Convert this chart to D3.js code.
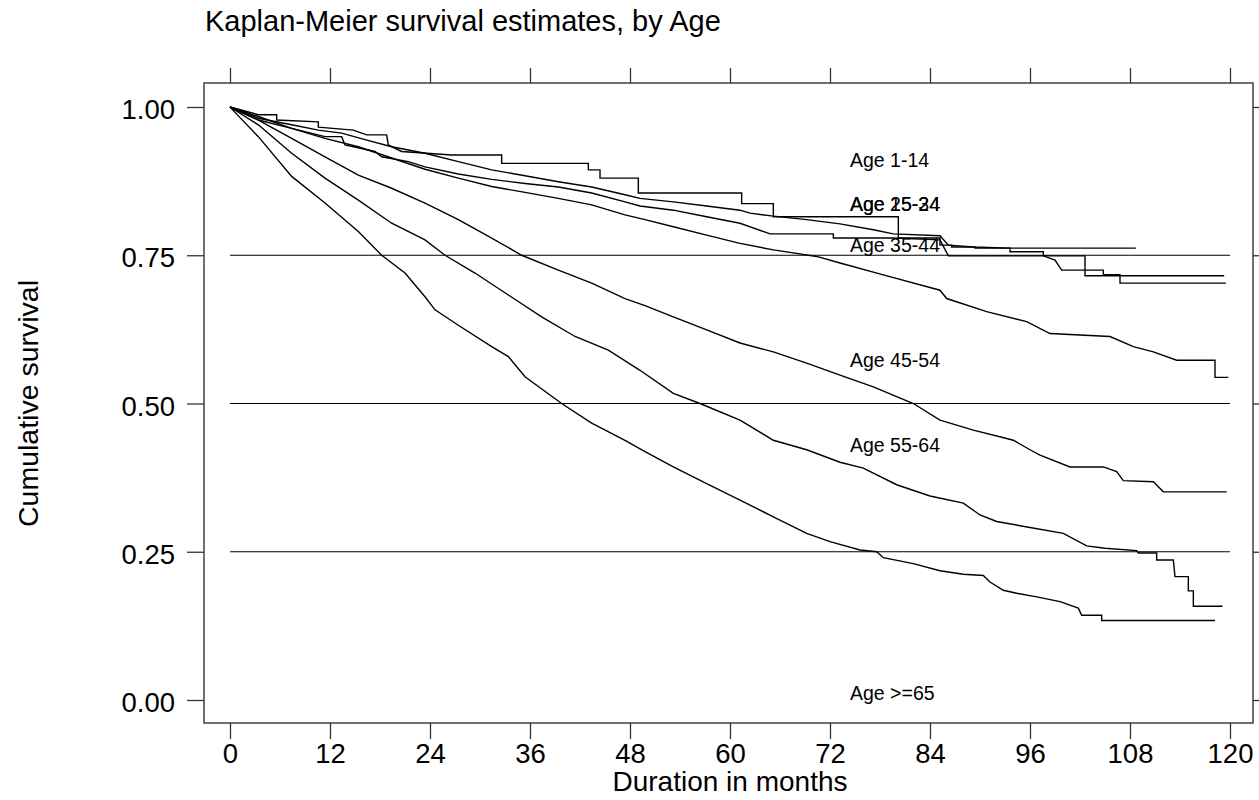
<!DOCTYPE html>
<html><head><meta charset="utf-8">
<script src="https://cdn.jsdelivr.net/npm/d3@7"></script>
<style>
body{margin:0;background:#fff}
svg{display:block}
text{font-family:"Liberation Sans",Arial,Helvetica,sans-serif;fill:#000}
</style></head>
<body><svg width="1259" height="800"></svg>
<script>
// ---------- data (month, cumulative survival) ----------
const ageLabels = ["Age 1-14","Age 15-24","Age 25-34","Age 35-44","Age 45-54","Age 55-64","Age >=65"];
const labelSurv = [0.898, 0.824, 0.824, 0.755, 0.562, 0.418, 0.0];
const labelMonth = 74.4;
const xTicks = [0,12,24,36,48,60,72,84,96,108,120];
const yTicks = [0,0.25,0.5,0.75,1];
const gridVals = [0.25,0.5,0.75];

const ageA = [[0,1],[3.4,0.987],[5.6,0.987],[5.6,0.978],[10.6,0.975],[10.6,0.966],[14.8,0.961],[16.4,0.953],[18.8,0.953],[19,0.936],[20.6,0.925],[26.6,0.919],[32.6,0.919],[32.6,0.905],[43,0.905],[43,0.894],[44.4,0.894],[44.4,0.880],[49,0.880],[49,0.855],[61.4,0.855],[61.4,0.837],[65.2,0.837],[65.2,0.815],[80.2,0.815],[80.2,0.779],[85.2,0.779],[85.2,0.767],[86.6,0.767],[86.6,0.764],[89.4,0.764],[89.4,0.762],[108.7,0.762]];
const ageB = [[0,1],[3.4,0.981],[7.4,0.970],[10.6,0.961],[13.4,0.956],[16.2,0.945],[19.4,0.933],[23.4,0.922],[27.4,0.908],[31.4,0.894],[35.4,0.884],[39.4,0.874],[43.4,0.865],[47.4,0.852],[49.2,0.846],[53.2,0.840],[57.2,0.833],[61.2,0.826],[62.4,0.821],[65.2,0.816],[69.2,0.810],[73.2,0.803],[77.2,0.793],[79.6,0.786],[85.2,0.783],[86.2,0.767],[89.2,0.764],[93.6,0.762],[93.6,0.756],[97.6,0.756],[97.6,0.749],[99,0.742],[99.8,0.725],[104.8,0.725],[104.8,0.717],[106.8,0.717],[106.8,0.703],[119.5,0.703]];
const ageC = [[0,1],[3.4,0.978],[7.4,0.964],[11.4,0.950],[13.4,0.950],[13.8,0.936],[17.4,0.925],[18.2,0.916],[21.4,0.908],[23.4,0.899],[27.4,0.887],[31.4,0.878],[35.4,0.871],[39.4,0.865],[43.4,0.855],[47.4,0.840],[49.2,0.833],[53.2,0.826],[57.2,0.815],[61.2,0.804],[64.8,0.786],[72.4,0.786],[72.4,0.779],[79.6,0.779],[85.2,0.776],[86.2,0.749],[102.6,0.749],[102.6,0.7155],[119.3,0.7155]];
const ageD = [[0,1],[3.4,0.984],[7.4,0.964],[11.4,0.947],[15.4,0.933],[19.4,0.914],[23.4,0.895],[27.4,0.880],[31.4,0.866],[35.4,0.856],[39.4,0.846],[43.4,0.835],[47.4,0.818],[49.8,0.810],[53.2,0.798],[57.2,0.784],[61.2,0.770],[65.2,0.759],[70.4,0.748],[73.2,0.737],[78.4,0.717],[85.2,0.691],[86,0.677],[90.8,0.655],[95.6,0.638],[98.4,0.618],[105.6,0.613],[108.4,0.596],[110.8,0.587],[113.6,0.573],[118.2,0.573],[118.2,0.544],[119.8,0.544]];
const ageE = [[0,1],[3.4,0.978],[7.4,0.947],[11.4,0.916],[15.4,0.885],[19.4,0.863],[23.4,0.838],[27.4,0.810],[31.4,0.779],[35,0.75],[39.4,0.725],[43.4,0.703],[47.4,0.677],[49.8,0.665],[53.2,0.646],[57.2,0.624],[61.2,0.602],[65.2,0.587],[69.2,0.568],[73.2,0.548],[77.2,0.528],[82,0.5],[85.2,0.472],[89.2,0.455],[93.2,0.441],[94,0.438],[96,0.422],[97.2,0.413],[100.8,0.393],[104.8,0.393],[106.4,0.385],[107.2,0.370],[110.8,0.368],[112,0.351],[119.6,0.351]];
const ageF = [[0,1],[3.4,0.970],[7.4,0.922],[11.4,0.880],[15.4,0.843],[19.4,0.804],[23.4,0.776],[25.8,0.75],[29.4,0.720],[33.4,0.683],[37.4,0.646],[41.4,0.613],[45.4,0.590],[49.2,0.556],[53.2,0.517],[56.4,0.5],[61.2,0.472],[65.2,0.438],[69.2,0.422],[73.2,0.401],[76,0.391],[80,0.363],[84,0.344],[88,0.332],[90,0.312],[92,0.301],[96,0.291],[100,0.281],[102.8,0.260],[105,0.256],[108.8,0.252],[109,0.248],[111.2,0.248],[111.2,0.236],[113.2,0.236],[113.4,0.208],[115,0.208],[115,0.184],[115.6,0.184],[115.6,0.158],[119.1,0.158]];
const ageG = [[0,1],[1,0.985],[3.4,0.950],[7.4,0.883],[11.4,0.838],[15.4,0.790],[18.2,0.75],[21,0.720],[23.4,0.680],[24.6,0.658],[27.4,0.632],[31.4,0.596],[33.4,0.579],[35.4,0.545],[39.8,0.5],[43.4,0.467],[47.4,0.438],[49.8,0.419],[53.2,0.393],[57.2,0.365],[61.2,0.337],[65.2,0.309],[69.2,0.281],[72,0.267],[75.6,0.253],[77.6,0.250],[78.4,0.240],[82,0.230],[85.2,0.218],[88,0.212],[90.4,0.210],[91.2,0.199],[92.8,0.185],[94.4,0.180],[96.8,0.174],[99.6,0.166],[101.8,0.155],[102.2,0.143],[104.6,0.143],[104.6,0.134],[118.2,0.134]];
const curves = [ageA, ageB, ageC, ageD, ageE, ageF, ageG];

// ---------- layout ----------
const frame = {left:204, right:1253, top:83, bottom:723};
const svg = d3.select("svg");
const x = d3.scaleLinear().domain([0,120]).range([230,1230]);
const y = d3.scaleLinear().domain([0,1]).range([700,107]);

// frame
svg.append("rect").attr("x",frame.left).attr("y",frame.top)
  .attr("width",frame.right-frame.left).attr("height",frame.bottom-frame.top)
  .attr("fill","none").attr("stroke","#333").attr("stroke-width",1.4);

// axes
function styleAxis(g){
  g.select(".domain").remove();
  g.selectAll(".tick line").attr("stroke","#333").attr("stroke-width",1.3);
  g.selectAll(".tick text").attr("font-size",27.5).attr("font-family",'"Liberation Sans",Arial,sans-serif').attr("fill","#000");
}
svg.append("g").attr("transform",`translate(0,${frame.bottom})`)
  .call(d3.axisBottom(x).tickValues(xTicks).tickSize(16).tickPadding(4).tickFormat(d3.format("d")))
  .call(styleAxis);
svg.append("g").attr("transform",`translate(0,${frame.top})`)
  .call(d3.axisTop(x).tickValues(xTicks).tickSize(15).tickFormat(""))
  .call(styleAxis);
const ly = svg.append("g").attr("transform",`translate(${frame.left},0)`)
  .call(d3.axisLeft(y).tickValues(yTicks).tickSize(17).tickPadding(12).tickFormat(d3.format(".2f")))
  .call(styleAxis);
ly.selectAll(".tick text").attr("dy","0.42em");
svg.append("g").attr("transform",`translate(${frame.right},0)`)
  .call(d3.axisRight(y).tickValues(yTicks).tickSize(15).tickFormat(""))
  .call(styleAxis);

// grid lines
svg.append("g").selectAll("line").data(gridVals).join("line")
  .attr("x1",x(0)).attr("x2",x(120)).attr("y1",d=>y(d)).attr("y2",d=>y(d))
  .attr("stroke","#000").attr("stroke-width",1.2);

// curves
const line = d3.line().x(d=>x(d[0])).y(d=>y(d[1]));
svg.append("g").selectAll("path").data(curves).join("path")
  .attr("d",line).attr("fill","none").attr("stroke","#000")
  .attr("stroke-width",1.4).attr("stroke-linejoin","miter");

// curve labels
svg.append("g").selectAll("text").data(ageLabels).join("text")
  .attr("x",x(labelMonth)).attr("y",(d,i)=>y(labelSurv[i]))
  .attr("font-size",19.5).text(d=>d);

// titles
svg.append("text").attr("x",205).attr("y",31).attr("font-size",29)
  .text("Kaplan-Meier survival estimates, by Age");
svg.append("text").attr("x",x(60)).attr("y",791).attr("text-anchor","middle")
  .attr("font-size",28).text("Duration in months");
svg.append("text").attr("transform",`translate(38,${y(0.5)}) rotate(-90)`)
  .attr("text-anchor","middle").attr("font-size",28.5).text("Cumulative survival");
</script></body></html>
